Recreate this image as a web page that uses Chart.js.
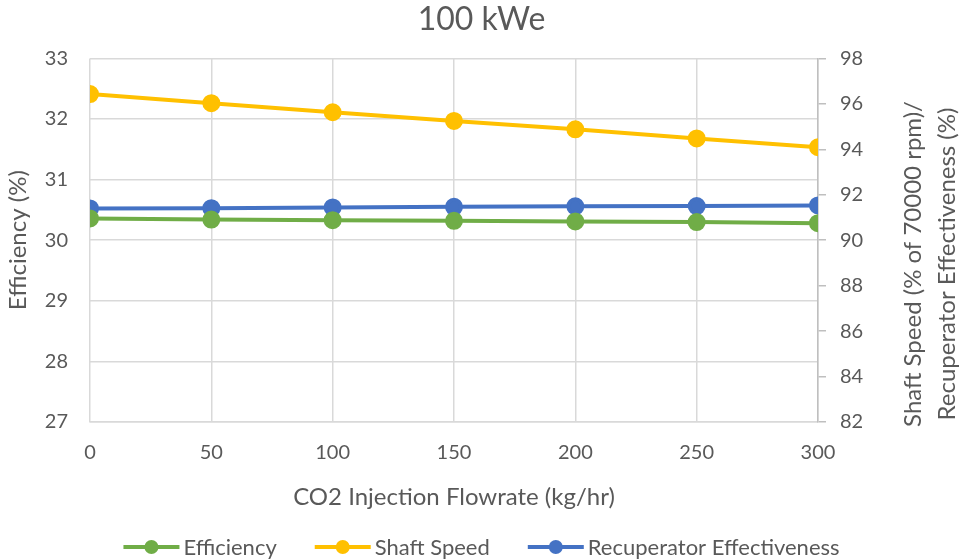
<!DOCTYPE html>
<html>
<head>
<meta charset="utf-8">
<script src="https://cdn.jsdelivr.net/npm/chart.js@4"></script>
<style>
  html, body { margin: 0; padding: 0; background: #fff; }
  #wrap { width: 963px; height: 560px; }
</style>
</head>
<body>
<div id="wrap"><canvas id="chart" width="963" height="560"></canvas></div>
<script>
// CO2 injection flowrate (kg/hr)
const flowrates = [0, 50, 100, 150, 200, 250, 300];
// efficiency (%), left axis
const efficiency = [30.36, 30.34, 30.33, 30.32, 30.31, 30.30, 30.28];
// shaft speed (% of 70000 rpm), right axis
const shaftSpeed = [96.43, 96.03, 95.63, 95.25, 94.88, 94.48, 94.09];
// recuperator effectiveness (%), right axis
const recupEffectiveness = [91.40, 91.41, 91.44, 91.47, 91.49, 91.50, 91.53];

const FONT = "Lato, 'Open Sans', sans-serif";
const TEXT = "#595959";
const GRID = "#d9d9d9";

function series(label, values, color, axis) {
    return {
        label: label,
        data: flowrates.map((x, i) => ({ x: x, y: values[i] })),
        borderColor: color,
        backgroundColor: color,
        borderWidth: 4,
        pointRadius: 7,
        pointHoverRadius: 7,
        pointStyle: "circle",
        yAxisID: axis,
    };
}

// right-hand axis title (reads bottom to top) and the legend row
const extras = {
    id: "extras",
    afterDraw(chart) {
        const ctx = chart.ctx;
        ctx.save();
        ctx.fillStyle = TEXT;

        // right axis title, two lines
        ctx.save();
        ctx.translate(0, 264);
        ctx.rotate(-Math.PI / 2);
        ctx.font = "24px " + FONT;
        ctx.textAlign = "center";
        ctx.textBaseline = "middle";
        ctx.fillText("Shaft Speed (% of 70000 rpm)/", 0, 913);
        ctx.fillText("Recuperator Effectiveness (%)", 0, 947);
        ctx.restore();

        // legend: line + dot swatch, then label
        const sw = 56, gapText = 4, gapItem = 38, y = 547;
        ctx.font = "22px " + FONT;
        ctx.textBaseline = "middle";
        ctx.textAlign = "left";
        const items = chart.data.datasets.map(ds => ({
            label: ds.label,
            color: ds.borderColor,
            w: ctx.measureText(ds.label).width,
        }));
        let total = items.reduce((s, it) => s + sw + gapText + it.w, 0) + gapItem * (items.length - 1);
        let x = chart.width / 2 - total / 2;
        items.forEach(it => {
            ctx.strokeStyle = it.color;
            ctx.fillStyle = it.color;
            ctx.lineWidth = 4;
            ctx.beginPath();
            ctx.moveTo(x, y);
            ctx.lineTo(x + sw, y);
            ctx.stroke();
            ctx.beginPath();
            ctx.arc(x + sw / 2, y, 7, 0, Math.PI * 2);
            ctx.fill();
            ctx.fillStyle = TEXT;
            ctx.fillText(it.label, x + sw + gapText, y + 1);
            x += sw + gapText + it.w + gapItem;
        });
        ctx.restore();
    }
};

new Chart(document.getElementById("chart"), {
    type: "line",
    data: {
        datasets: [
            series("Efficiency", efficiency, "#70ad47", "yLeft"),
            series("Shaft Speed", shaftSpeed, "#ffc000", "yRight"),
            series("Recuperator Effectiveness", recupEffectiveness, "#4472c4", "yRight"),
        ],
    },
    options: {
        responsive: false,
        animation: false,
        layout: { padding: { top: 0, right: 0, left: 0, bottom: 40 } },
        plugins: {
            title: {
                display: true,
                text: "100 kWe",
                color: TEXT,
                font: { family: FONT, size: 32, weight: "normal" },
                padding: { top: 0, bottom: 20 },
            },
            legend: { display: false },
            tooltip: { enabled: false },
        },
        scales: {
            x: {
                type: "linear",
                min: 0,
                max: 300,
                ticks: { stepSize: 50, color: TEXT, padding: 19, font: { family: FONT, size: 20 } },
                grid: { color: GRID, lineWidth: 1.5, drawTicks: false },
                border: { color: GRID, width: 1.5 },
                title: {
                    display: true,
                    text: "CO2 Injection Flowrate (kg/hr)",
                    color: TEXT,
                    font: { family: FONT, size: 24 },
                    padding: { top: 4, bottom: 8 },
                },
                afterFit(scale) { scale.height = 98; },
            },
            yLeft: {
                position: "left",
                min: 27,
                max: 33,
                ticks: { stepSize: 1, color: TEXT, padding: 22, font: { family: FONT, size: 20 } },
                grid: { color: GRID, lineWidth: 1.5, drawTicks: false },
                border: { display: false },
                title: {
                    display: true,
                    text: "Efficiency (%)",
                    color: TEXT,
                    font: { family: FONT, size: 24 },
                },
                afterFit(scale) { scale.width = 90; },
            },
            yRight: {
                position: "right",
                min: 82,
                max: 98,
                ticks: { stepSize: 2, color: TEXT, padding: 14, font: { family: FONT, size: 20 } },
                grid: { drawOnChartArea: false, color: "#bfbfbf", tickLength: 8, lineWidth: 1.5 },
                border: { color: "#bfbfbf", width: 1.5 },
                afterFit(scale) { scale.width = 145; },
            },
        },
    },
    plugins: [extras],
});
</script>
</body>
</html>
